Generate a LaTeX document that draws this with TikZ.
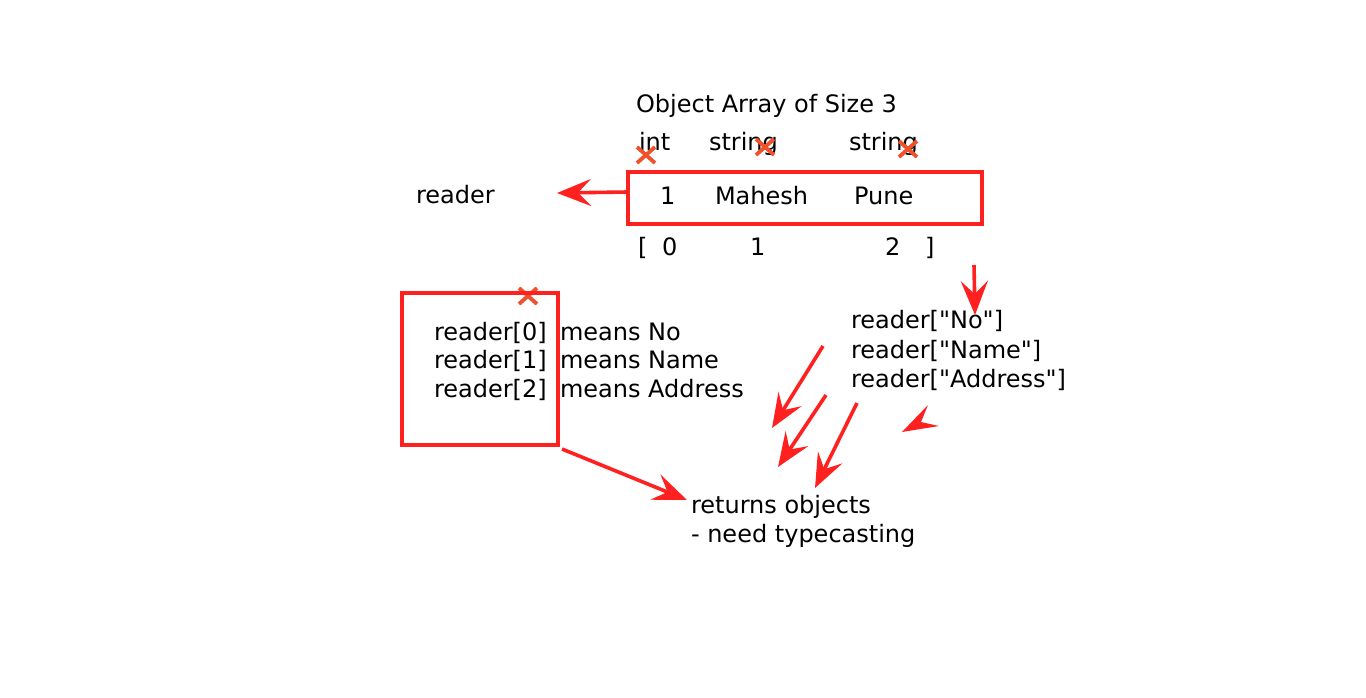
\documentclass[tikz,border=0pt]{standalone}
\usepackage{fontspec}
\setmainfont{DejaVu Sans}[Ligatures=TeXOff]
\usetikzlibrary{arrows.meta}
\definecolor{lred}{HTML}{FF2020}
\definecolor{xred}{HTML}{F0502A}
\tikzset{
  txt/.style={anchor=base west, inner sep=0pt, outer sep=0pt, font=\fontsize{24}{29}\selectfont},
  box/.style={draw=lred, line width=4pt},
  arr/.style={draw=lred, line width=3.6pt, -{Stealth[length=34pt,width=27pt,inset=13pt]}},
  xmark/.style={draw=xred, line width=3.8pt},
}
\begin{document}
\begin{tikzpicture}[x=1pt,y=-1pt]
\useasboundingbox (0,0) rectangle (1366,697);
% title and types
\node[txt] (title) at (636,112) {Object Array of Size 3};
\node[txt] (tint) at (639,150) {int};
\node[txt] (tstr1) at (709,150) {string};
\node[txt] (tstr2) at (849,150) {string};
% crosses
\foreach \n/\cx/\cy in {c1/646/155, c2/765/147, c3/908/149, c4/528/296}{
  \coordinate (\n) at (\cx,\cy);
  \draw[xmark] ([shift={(-9,-8)}]\n) -- ([shift={(9,8)}]\n);
  \draw[xmark] ([shift={(-9,8)}]\n) -- ([shift={(9,-8)}]\n);
}
% array box
\draw[box] (627.5,171.5) rectangle (982,224);
\coordinate (arrW) at (627.5,192);
\node[txt] (v1) at (660,204) {1};
\node[txt] (v2) at (715,204) {Mahesh};
\node[txt] (v3) at (854,204) {Pune};
% indexes
\node[txt] (ib1) at (638,255) {[};
\node[txt] (i0) at (662,255) {0};
\node[txt] (i1) at (750,255) {1};
\node[txt] (i2) at (885,255) {2};
\node[txt] (ib2) at (925,255) {]};
% reader
\node[txt] (reader) at (416,203) {reader};
\coordinate (readerTip) at (557,193);
\draw[arr] (arrW) -- (readerTip);
% left box
\draw[box] (401.5,293) rectangle (558,445);
\node[txt] (r0) at (434,340) {reader[0]};
\node[txt] (r1) at (434,368) {reader[1]};
\node[txt] (r2) at (434,397) {reader[2]};
\node[txt] (m0) at (560,340) {means No};
\node[txt] (m1) at (560,368) {means Name};
\node[txt] (m2) at (560,397) {means Address};
% named access
\node[txt] (n0) at (851,328) {reader["No"]};
\node[txt] (n1) at (851,358) {reader["Name"]};
\node[txt] (n2) at (851,387) {reader["Address"]};
\coordinate (dS) at (974,265);
\coordinate (dT) at (975,315);
\draw[arr] (dS) -- (dT);
% returns
\node[txt] (ret1) at (691,513) {returns objects};
\node[txt] (ret2) at (691,542) {- need typecasting};
\coordinate (lbS) at (562,449);
\coordinate (lbT) at (687,500);
\draw[arr] (lbS) -- (lbT);
% diagonal arrows
\coordinate (a1s) at (823,346); \coordinate (a1t) at (772,428);
\coordinate (a2s) at (826,395); \coordinate (a2t) at (778,467);
\coordinate (a3s) at (857,403); \coordinate (a3t) at (815,488);
\draw[arr] (a1s) -- (a1t);
\draw[arr] (a2s) -- (a2t);
\draw[arr] (a3s) -- (a3t);
% stray arrowhead
\fill[lred] (902,432) -- (928,405) -- (921,422) -- (939,426) -- cycle;
\end{tikzpicture}
\end{document}
